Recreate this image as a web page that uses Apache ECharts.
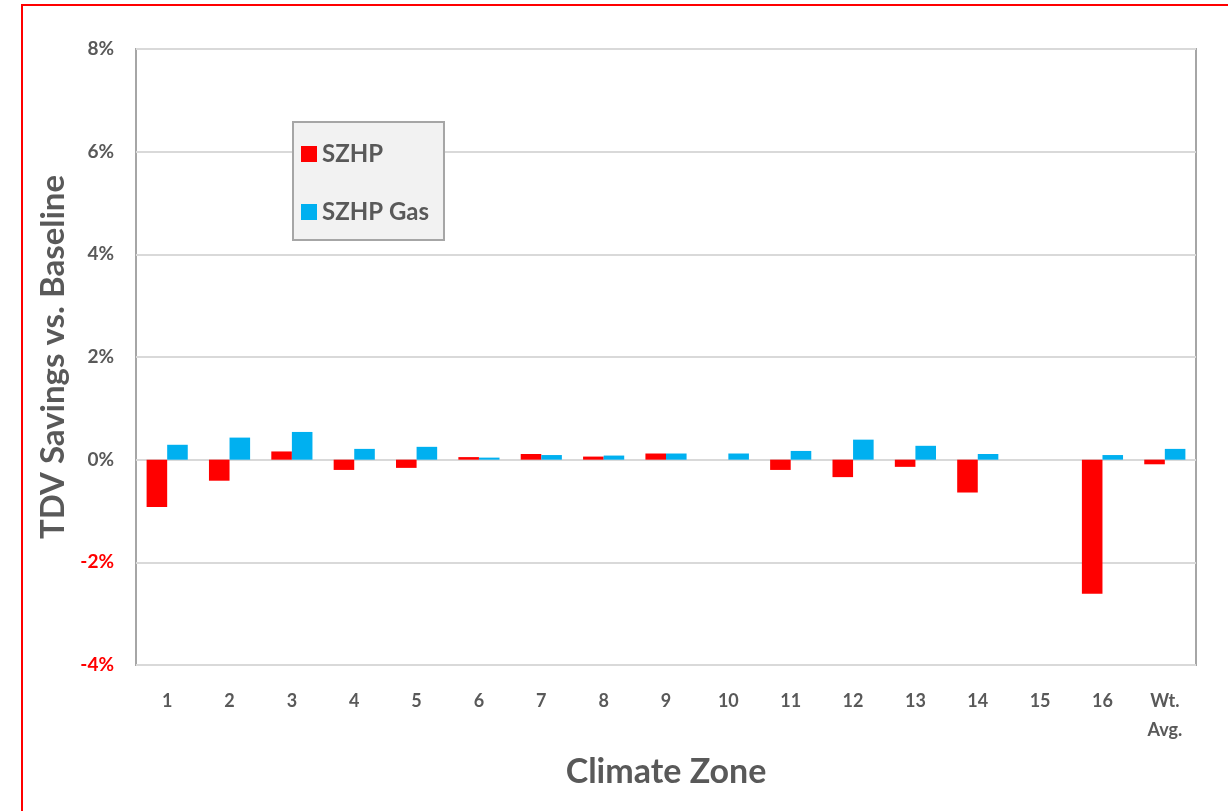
<!DOCTYPE html>
<html>
<head>
<meta charset="utf-8">
<script src="https://cdn.jsdelivr.net/npm/echarts@6/dist/echarts.min.js"></script>
<style>
  html, body { margin: 0; padding: 0; background: #fff; }
  #chart { width: 1228px; height: 811px; }
</style>
</head>
<body>
<div id="chart"></div>
<script>
// Climate zones and TDV savings (% vs. baseline)
const zones = ['1', '2', '3', '4', '5', '6', '7', '8', '9', '10', '11', '12', '13', '14', '15', '16', 'Wt.\nAvg.'];
const szhp = [-0.92, -0.41, 0.16, -0.20, -0.16, 0.05, 0.11, 0.06, 0.12, 0, -0.20, -0.34, -0.14, -0.64, 0, -2.61, -0.09];
const szhpGas = [0.29, 0.43, 0.54, 0.21, 0.25, 0.04, 0.09, 0.08, 0.12, 0.12, 0.17, 0.39, 0.27, 0.11, 0, 0.09, 0.21];

const FONT = 'Lato, "Open Sans", sans-serif';
const GREY = '#595959';

const chart = echarts.init(document.getElementById('chart'));
chart.setOption({
  backgroundColor: '#fff',
  animation: false,
  textStyle: { fontFamily: FONT },
  graphic: [{
    type: 'rect',
    shape: { x: 22, y: 5, width: 1220, height: 820 },
    style: { fill: 'none', stroke: '#ff0000', lineWidth: 2 },
    silent: true
  }],
  grid: {
    left: 136, top: 49, right: 32, bottom: 146,
    show: true, borderColor: '#a6a6a6', borderWidth: 2, backgroundColor: 'transparent'
  },
  legend: {
    orient: 'vertical',
    left: 293, top: 122,
    padding: [20, 15, 16, 8],
    itemGap: 34,
    itemWidth: 16, itemHeight: 16,
    backgroundColor: '#f2f2f2',
    borderColor: '#a6a6a6', borderWidth: 2,
    icon: 'rect',
    textStyle: { fontFamily: FONT, fontWeight: 'bold', fontSize: 24, color: GREY, padding: [0, 0, 0, 0] },
    data: ['SZHP', 'SZHP Gas']
  },
  xAxis: {
    type: 'category',
    data: zones,
    name: 'Climate Zone',
    nameLocation: 'middle',
    nameGap: 90,
    nameTextStyle: { fontFamily: FONT, fontWeight: 'bold', fontSize: 34, color: GREY },
    axisLine: { show: false, onZero: false },
    axisTick: { show: false },
    axisLabel: {
      fontFamily: FONT, fontWeight: 'bold', fontSize: 18, color: GREY,
      margin: 22, lineHeight: 29, verticalAlign: 'top'
    }
  },
  yAxis: {
    type: 'value',
    min: -4, max: 8, interval: 2,
    name: 'TDV Savings vs. Baseline',
    nameLocation: 'middle',
    nameGap: 52,
    nameTextStyle: { fontFamily: FONT, fontWeight: 'bold', fontSize: 33, color: GREY },
    axisLine: { show: false },
    axisTick: { show: false },
    axisLabel: {
      margin: 22,
      fontFamily: FONT, fontWeight: 'bold', fontSize: 19,
      formatter: v => v + '%',
      color: v => (Number(v) < 0 ? '#ff0000' : GREY)
    },
    splitLine: { lineStyle: { color: '#d9d9d9', width: 2 } }
  },
  series: [
    {
      name: 'SZHP', type: 'bar', data: szhp,
      itemStyle: { color: '#ff0000' },
      barGap: '0%', barCategoryGap: '34%'
    },
    {
      name: 'SZHP Gas', type: 'bar', data: szhpGas,
      itemStyle: { color: '#00b0f0' },
      barGap: '0%', barCategoryGap: '34%'
    }
  ]
});
</script>
</body>
</html>
